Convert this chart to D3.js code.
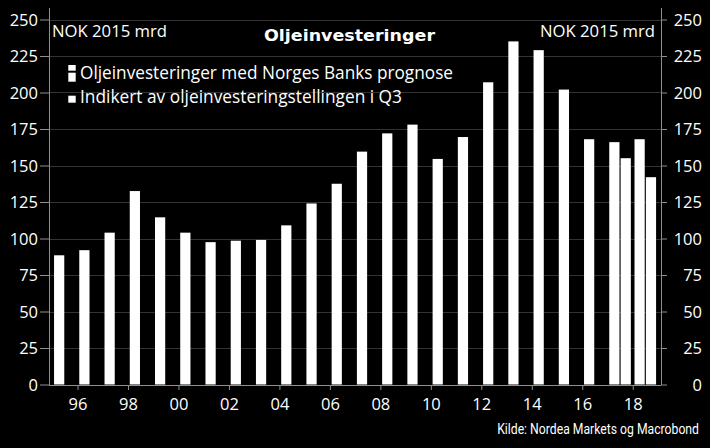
<!DOCTYPE html>
<html><head><meta charset="utf-8">
<script src="https://cdn.jsdelivr.net/npm/d3@7"></script>
<style>
html,body{margin:0;padding:0;background:#000;}
svg{display:block;}
</style>
</head><body>
<svg id="chart" width="710" height="448"></svg>
<script>
// ---- data ----
const years = [1995,1996,1997,1998,1999,2000,2001,2002,2003,2004,2005,2006,2007,2008,2009,2010,2011,2012,2013,2014,2015,2016,2017,2018];
const prognose = [88.5,92,104,132.5,114.5,104,97.5,98.5,99,109,124,137.5,159.5,172,178,154.5,169.5,207,235,229,202,168,166,168];
const surveyYears = [2017,2018];
const survey = [155,142];
const yTicks = [0,25,50,75,100,125,150,175,200,225,250];
const xTickYears = [1996,1998,2000,2002,2004,2006,2008,2010,2012,2014,2016,2018];
const xTickLabels = ["96","98","00","02","04","06","08","10","12","14","16","18"];
const title = "Oljeinvesteringer";
const unitLabel = "NOK 2015 mrd";
const legendLabels = ["Oljeinvesteringer med Norges Banks prognose","Indikert av oljeinvesteringstellingen i Q3"];
const source = "Kilde: Nordea Markets og Macrobond";

(function () {
// ---- layout ----
const svg = d3.select("#chart");
const W = 710, H = 448;
const mLeft = 49, mRight = 661, mTop = 8, mBottom = 385;
const tickFont = "'Open Sans', 'Noto Sans', sans-serif";

svg.append("rect").attr("width", W).attr("height", H).attr("fill", "#000");

const x = d3.scaleLinear().domain([1994.87, 2019.12]).range([mLeft, mRight]);
const y = d3.scaleLinear().domain([0, 250]).range([384.5, 19.5]);

// gridlines
svg.append("g").selectAll("line").data(yTicks.filter(d => d > 0)).join("line")
  .attr("x1", mLeft).attr("x2", mRight)
  .attr("y1", d => Math.round(y(d)) + 0.5).attr("y2", d => Math.round(y(d)) + 0.5)
  .attr("stroke", "#333").attr("stroke-width", 1);

// bars
const barW = 0.405;
svg.append("g").selectAll("rect").data(years).join("rect")
  .attr("x", (d) => x(d + 0.07))
  .attr("width", (d) => x(d + 0.07 + barW) - x(d + 0.07))
  .attr("y", (d, i) => y(prognose[i]))
  .attr("height", (d, i) => y(0) - y(prognose[i]))
  .attr("fill", "#fff");

svg.append("g").selectAll("rect").data(surveyYears).join("rect")
  .attr("x", (d) => x(d + 0.52))
  .attr("width", (d) => x(d + 0.52 + barW) - x(d + 0.52))
  .attr("y", (d, i) => y(survey[i]))
  .attr("height", (d, i) => y(0) - y(survey[i]))
  .attr("fill", "#fff");

const axisColor = "#8f8f8f";

// left axis
const gl = svg.append("g").attr("transform", `translate(${mLeft},0)`)
  .call(d3.axisLeft(y).tickValues(yTicks).tickSize(9).tickSizeOuter(0).tickPadding(2));
gl.select(".domain").remove();
gl.selectAll(".tick line").attr("stroke", axisColor);
gl.selectAll(".tick text").attr("fill", "#fff").attr("font-family", tickFont)
  .attr("font-size", 16.5).attr("dy", "0.36em");

// right axis
const gr = svg.append("g").attr("transform", `translate(${mRight},0)`)
  .call(d3.axisRight(y).tickValues(yTicks).tickSize(6).tickSizeOuter(0));
gr.select(".domain").remove();
gr.selectAll(".tick line").attr("stroke", axisColor);
gr.selectAll(".tick text").attr("fill", "#fff").attr("font-family", tickFont)
  .attr("font-size", 16.5).attr("text-anchor", "end").attr("x", 702 - mRight).attr("dy", "0.36em");

// axis lines
svg.append("line").attr("x1", mLeft + 0.5).attr("x2", mLeft + 0.5).attr("y1", mTop).attr("y2", mBottom)
  .attr("stroke", axisColor);
svg.append("line").attr("x1", mRight + 0.5).attr("x2", mRight + 0.5).attr("y1", mTop).attr("y2", mBottom)
  .attr("stroke", axisColor);

// bottom axis
const gx = svg.append("g").attr("transform", `translate(0,${mBottom})`)
  .call(d3.axisBottom(x).tickValues(xTickYears).tickFormat((d, i) => xTickLabels[i]).tickSize(5).tickSizeOuter(0));
gx.select(".domain").attr("stroke", axisColor).attr("d", `M${mLeft},0.5H${mRight}`);
gx.selectAll(".tick line").attr("stroke", axisColor);
gx.selectAll(".tick text").attr("fill", "#fff").attr("font-family", tickFont)
  .attr("font-size", 16.5).attr("y", 25).attr("dy", 0);

// title
svg.append("text").attr("x", 349.5).attr("y", 40.5).attr("text-anchor", "middle")
  .attr("font-family", "'DejaVu Sans', sans-serif").attr("font-weight", "bold")
  .attr("font-size", 15.5).attr("fill", "#fff")
  .attr("textLength", 171).attr("lengthAdjust", "spacingAndGlyphs").text(title);

// unit labels
svg.append("text").attr("x", 52).attr("y", 37).attr("font-family", tickFont)
  .attr("font-size", 16).attr("fill", "#fff")
  .attr("textLength", 115).attr("lengthAdjust", "spacingAndGlyphs").text(unitLabel);
svg.append("text").attr("x", 540).attr("y", 37).attr("font-family", tickFont)
  .attr("font-size", 16).attr("fill", "#fff")
  .attr("textLength", 115).attr("lengthAdjust", "spacingAndGlyphs").text(unitLabel);

// legend
const lg = svg.append("g");
lg.append("rect").attr("x", 68.3).attr("y", 65).attr("width", 7.4).attr("height", 5.7).attr("fill", "#fff");
lg.append("rect").attr("x", 68.3).attr("y", 72.7).attr("width", 7.4).attr("height", 9).attr("fill", "#fff");
lg.append("rect").attr("x", 68.3).attr("y", 95.7).attr("width", 7.4).attr("height", 7).attr("fill", "#fff");
lg.append("text").attr("x", 80).attr("y", 79.3).attr("font-family", tickFont)
  .attr("font-size", 17.5).attr("fill", "#fff")
  .attr("textLength", 373).attr("lengthAdjust", "spacingAndGlyphs").text(legendLabels[0]);
lg.append("text").attr("x", 80).attr("y", 103.3).attr("font-family", tickFont)
  .attr("font-size", 17.5).attr("fill", "#fff")
  .attr("textLength", 322).attr("lengthAdjust", "spacingAndGlyphs").text(legendLabels[1]);

// source (condensed via horizontal scale so its box stays inside the picture)
const src = svg.append("text").attr("x", 0).attr("y", 0).attr("text-anchor", "end")
  .attr("font-family", "Roboto, 'Open Sans', sans-serif")
  .attr("font-size", 14).attr("fill", "#fff").text(source);
const natural = src.node().getComputedTextLength();
const sx = 202 / natural;
src.attr("transform", `translate(699,434.3) scale(${sx},1)`);
})();
</script>
</body></html>
